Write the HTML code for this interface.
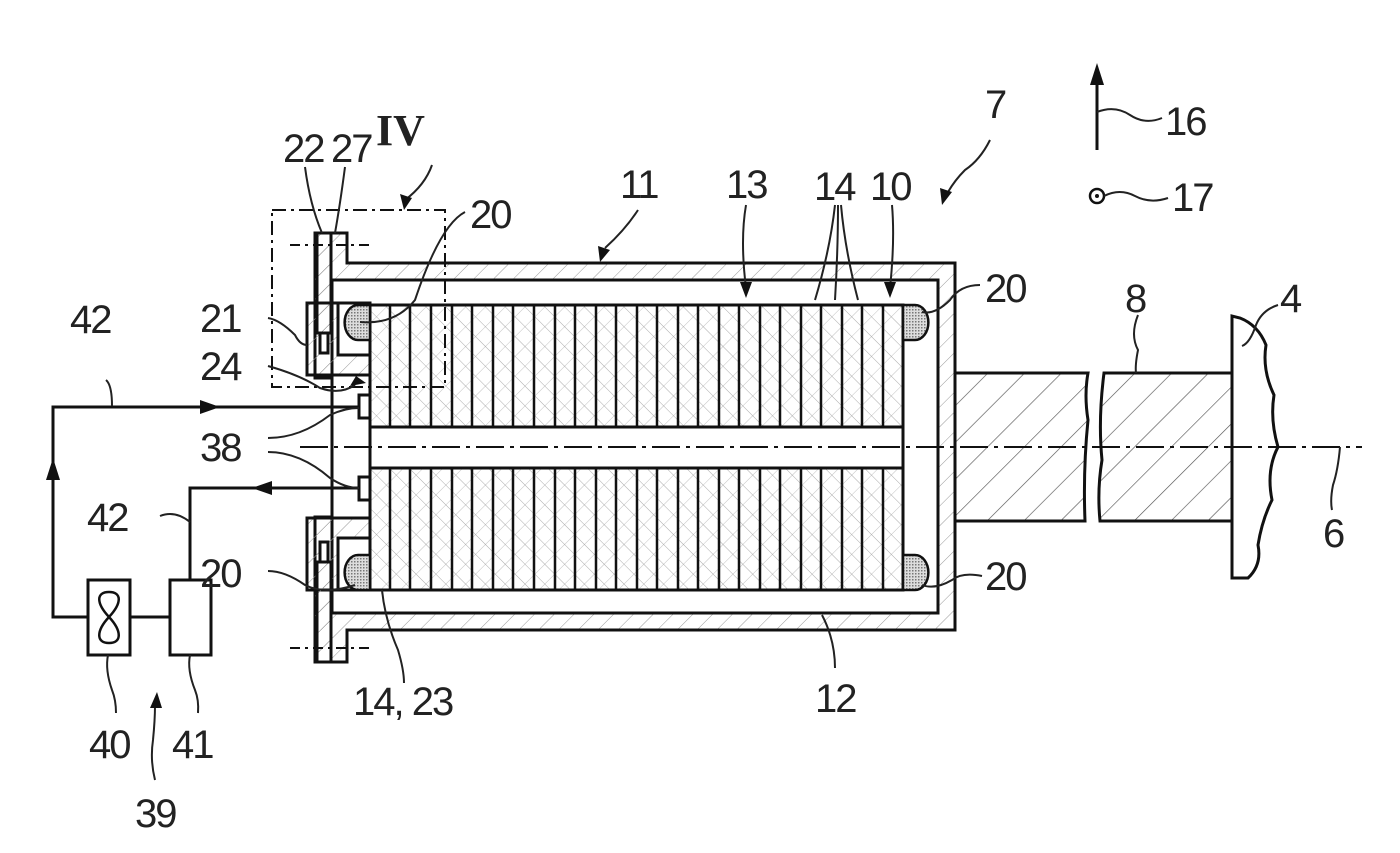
<!DOCTYPE html>
<html><head><meta charset="utf-8"><style>
html,body{margin:0;padding:0;background:#fff;}
svg{display:block;}
text{font-family:"Liberation Sans",sans-serif;font-size:40px;fill:#222;letter-spacing:-2px;}
</style></head><body>
<svg width="1400" height="853" viewBox="0 0 1400 853" xmlns="http://www.w3.org/2000/svg">
<defs>
<pattern id="h" patternUnits="userSpaceOnUse" width="14" height="14" patternTransform="rotate(45)">
<line x1="0" y1="0" x2="0" y2="14" stroke="#999" stroke-width="1"/>
</pattern>
<pattern id="h2" patternUnits="userSpaceOnUse" width="14" height="14" patternTransform="rotate(-45)">
<line x1="0" y1="0" x2="0" y2="14" stroke="#aaa" stroke-width="1"/>
</pattern>
<pattern id="hs" patternUnits="userSpaceOnUse" width="26" height="26" patternTransform="rotate(45)">
<line x1="0" y1="0" x2="0" y2="26" stroke="#555" stroke-width="1.3"/>
</pattern>
<pattern id="dots" patternUnits="userSpaceOnUse" width="3" height="3">
<rect width="3" height="3" fill="#ddd"/><rect width="1.5" height="1.5" fill="#777"/>
</pattern>
</defs>

<g stroke="#111" fill="none" stroke-width="3">
<!-- housing -->
<path d="M347,233 L347,263 L955,263 L955,630 L347,630 L347,662 L315,662 L315,517 L370,517 L370,378 L315,378 L315,233 Z" fill="url(#h)"/>
<path d="M332,280 L938,280 L938,613 L332,613 Z" fill="#fff"/>
<!-- stator stack -->
<rect x="370" y="305" width="533" height="285" fill="url(#h2)"/>
<rect x="370" y="305" width="533" height="285" fill="url(#h)" opacity="0.6"/>
<rect x="370" y="427" width="533" height="41" fill="#fff"/>
<!-- flange blocks -->
<path d="M307,303 L370,303 L370,375 L307,375 Z" fill="url(#h)"/>
<path d="M307,518 L370,518 L370,590 L307,590 Z" fill="url(#h)"/>
<rect x="315" y="263" width="17" height="40" fill="url(#h)" stroke="none"/>
<rect x="315" y="590" width="17" height="40" fill="url(#h)" stroke="none"/>
<line x1="332" y1="280" x2="332" y2="303"/>
<line x1="332" y1="590" x2="332" y2="613"/>
</g>
<g stroke="#111" stroke-width="2.5">
<line x1="390" y1="305" x2="390" y2="427"/><line x1="410" y1="305" x2="410" y2="427"/><line x1="431" y1="305" x2="431" y2="427"/><line x1="452" y1="305" x2="452" y2="427"/><line x1="472" y1="305" x2="472" y2="427"/><line x1="493" y1="305" x2="493" y2="427"/><line x1="513" y1="305" x2="513" y2="427"/><line x1="534" y1="305" x2="534" y2="427"/><line x1="555" y1="305" x2="555" y2="427"/><line x1="575" y1="305" x2="575" y2="427"/><line x1="596" y1="305" x2="596" y2="427"/><line x1="616" y1="305" x2="616" y2="427"/><line x1="637" y1="305" x2="637" y2="427"/><line x1="657" y1="305" x2="657" y2="427"/><line x1="678" y1="305" x2="678" y2="427"/><line x1="698" y1="305" x2="698" y2="427"/><line x1="719" y1="305" x2="719" y2="427"/><line x1="739" y1="305" x2="739" y2="427"/><line x1="760" y1="305" x2="760" y2="427"/><line x1="780" y1="305" x2="780" y2="427"/><line x1="801" y1="305" x2="801" y2="427"/><line x1="821" y1="305" x2="821" y2="427"/><line x1="842" y1="305" x2="842" y2="427"/><line x1="862" y1="305" x2="862" y2="427"/><line x1="883" y1="305" x2="883" y2="427"/>
<line x1="390" y1="468" x2="390" y2="590"/><line x1="410" y1="468" x2="410" y2="590"/><line x1="431" y1="468" x2="431" y2="590"/><line x1="452" y1="468" x2="452" y2="590"/><line x1="472" y1="468" x2="472" y2="590"/><line x1="493" y1="468" x2="493" y2="590"/><line x1="513" y1="468" x2="513" y2="590"/><line x1="534" y1="468" x2="534" y2="590"/><line x1="555" y1="468" x2="555" y2="590"/><line x1="575" y1="468" x2="575" y2="590"/><line x1="596" y1="468" x2="596" y2="590"/><line x1="616" y1="468" x2="616" y2="590"/><line x1="637" y1="468" x2="637" y2="590"/><line x1="657" y1="468" x2="657" y2="590"/><line x1="678" y1="468" x2="678" y2="590"/><line x1="698" y1="468" x2="698" y2="590"/><line x1="719" y1="468" x2="719" y2="590"/><line x1="739" y1="468" x2="739" y2="590"/><line x1="760" y1="468" x2="760" y2="590"/><line x1="780" y1="468" x2="780" y2="590"/><line x1="801" y1="468" x2="801" y2="590"/><line x1="821" y1="468" x2="821" y2="590"/><line x1="842" y1="468" x2="842" y2="590"/><line x1="862" y1="468" x2="862" y2="590"/><line x1="883" y1="468" x2="883" y2="590"/>
</g>
<g stroke="#111" stroke-width="3" fill="none">
<!-- flange cutouts -->
<rect x="338" y="303" width="32" height="52" fill="#fff"/>
<rect x="338" y="538" width="32" height="52" fill="#fff"/>
<!-- pins -->
<rect x="317" y="233" width="14" height="100" fill="url(#h)"/>
<rect x="320" y="333" width="8" height="20" fill="#fff"/>
<rect x="317" y="562" width="14" height="100" fill="url(#h)"/>
<rect x="320" y="542" width="8" height="20" fill="#fff"/>
<!-- end windings -->
<path d="M370,305 L358,305 A13,17 0 0 0 358,340 L370,340 Z" fill="url(#dots)" stroke-width="2.5"/>
<path d="M370,555 L358,555 A13,17 0 0 0 358,590 L370,590 Z" fill="url(#dots)" stroke-width="2.5"/>
<path d="M903,305 L915,305 A13,17 0 0 1 915,340 L903,340 Z" fill="url(#dots)" stroke-width="2.5"/>
<path d="M903,555 L915,555 A13,17 0 0 1 915,590 L903,590 Z" fill="url(#dots)" stroke-width="2.5"/>
<!-- sensors 38 -->
<rect x="359" y="395" width="11" height="23" fill="#fff"/>
<rect x="359" y="477" width="11" height="23" fill="#fff"/>
<!-- shaft -->
<path d="M955,373 L1088,373 Q1084,395 1088,420 Q1083,470 1085,521 L955,521 Z" fill="url(#hs)"/>
<path d="M1104,373 L1232,373 L1232,521 L1100,521 Q1097,490 1102,460 Q1098,420 1104,373 Z" fill="url(#hs)"/>
<!-- flange 4 -->
<path d="M1232,316 L1232,578 L1248,578 Q1262,565 1258,545 Q1262,520 1272,500 Q1266,470 1278,447 Q1270,420 1274,395 Q1262,370 1266,345 Q1258,325 1240,318 Z" fill="#fff"/>
</g>
<!-- axis -->
<line x1="300" y1="447" x2="1362" y2="447" stroke="#111" stroke-width="2" stroke-dasharray="28,6,4,6"/>
<line x1="290" y1="245" x2="370" y2="245" stroke="#111" stroke-width="2" stroke-dasharray="10,5,3,5"/>
<line x1="290" y1="648" x2="370" y2="648" stroke="#111" stroke-width="2" stroke-dasharray="10,5,3,5"/>
<!-- detail box IV -->
<rect x="272" y="210" width="173" height="177" fill="none" stroke="#111" stroke-width="2" stroke-dasharray="14,5,3,5"/>

<!-- circuit -->
<g stroke="#111" stroke-width="3" fill="none">
<path d="M359,407 L53,407 L53,617 L88,617"/>
<line x1="130" y1="617" x2="170" y2="617"/>
<path d="M359,488 L190,488 L190,580"/>
<rect x="88" y="580" width="42" height="75" fill="#fff"/>
<rect x="170" y="580" width="41" height="75" fill="#fff"/>
<path d="M109,592 C96,592 96,603 109,617 C122,631 122,643 109,643 C96,643 96,631 109,617 C122,603 122,592 109,592 Z" stroke-width="2.5"/>
</g>
<path d="M200,400 L220,407 L200,414 Z" fill="#111"/>
<path d="M53,458 L46,480 L60,480 Z" fill="#111"/>
<path d="M252,488 L272,481 L272,495 Z" fill="#111"/>

<!-- direction symbols -->
<line x1="1097" y1="150" x2="1097" y2="80" stroke="#111" stroke-width="3"/>
<path d="M1097,63 L1090,85 L1104,85 Z" fill="#111"/>
<circle cx="1097" cy="196" r="7" fill="none" stroke="#111" stroke-width="2.5"/>
<circle cx="1097" cy="196" r="2" fill="#111"/>

<!-- leaders -->
<g stroke="#222" stroke-width="2" fill="none">
<path d="M1097,112 Q1115,105 1130,115 T1162,118"/>
<path d="M1104,196 Q1120,188 1135,196 T1168,198"/>
<path d="M305,167 Q310,205 322,233"/>
<path d="M345,167 Q340,205 335,233"/>
<path d="M465,212 Q440,225 415,300 Q395,325 360,322"/>
<path d="M980,285 Q960,285 950,300 Q935,315 922,312"/>
<path d="M982,576 Q962,572 952,580 Q935,590 922,585"/>
<path d="M268,571 Q285,571 305,585 Q325,595 355,585"/>
<path d="M268,318 Q280,320 295,335 Q300,345 307,345"/>
<path d="M268,366 Q300,375 320,388 Q340,395 355,385"/>
<path d="M268,438 Q300,438 330,415 Q345,408 359,408"/>
<path d="M268,452 Q300,452 330,478 Q345,488 359,488"/>
<path d="M112,406 Q112,385 106,380"/>
<path d="M160,516 Q175,510 190,522"/>
<path d="M108,655 Q105,670 112,690 Q116,700 116,713"/>
<path d="M190,655 Q187,670 195,690 Q199,700 198,713"/>
<path d="M382,590 Q385,620 398,650 Q404,670 404,683"/>
<path d="M1138,315 Q1130,335 1138,350 Q1135,365 1136,373"/>
<path d="M1278,305 Q1262,310 1256,325 Q1250,343 1242,346"/>
<path d="M1340,447 Q1338,470 1333,485 Q1330,500 1332,510"/>
<path d="M835,668 Q835,640 822,615"/>
<path d="M638,210 Q625,230 605,248"/>
<path d="M746,205 Q740,240 746,288"/>
<path d="M892,205 Q895,240 890,288"/>
<path d="M835,205 Q830,250 815,300"/>
<path d="M838,205 Q838,250 835,300"/>
<path d="M841,205 Q845,250 858,300"/>
<path d="M432,165 Q425,185 405,200"/>
<path d="M990,140 Q980,160 965,170 Q955,180 948,192"/>
<path d="M155,780 Q150,760 153,740 Q155,720 155,705"/>
</g>
<g fill="#111">
<path d="M600,262 L598,246 L610,250 Z"/>
<path d="M746,298 L740,282 L752,282 Z"/>
<path d="M890,298 L884,282 L896,282 Z"/>
<path d="M404,210 L400,194 L412,198 Z"/>
<path d="M942,205 L940,188 L952,192 Z"/>
<path d="M157,692 L150,708 L162,708 Z"/>
<path d="M366,383 L350,386 L356,376 Z"/>
</g>

<!-- labels -->
<text x="283" y="162">22</text>
<text x="331" y="162">27</text>
<text x="376" y="145" style="font-family:'Liberation Serif',serif;font-weight:bold;font-size:44px;letter-spacing:0">IV</text>
<text x="620" y="198">11</text>
<text x="726" y="198">13</text>
<text x="814" y="200">14</text>
<text x="870" y="200">10</text>
<text x="985" y="118">7</text>
<text x="1165" y="135">16</text>
<text x="1172" y="211">17</text>
<text x="470" y="228">20</text>
<text x="985" y="302">20</text>
<text x="985" y="590">20</text>
<text x="200" y="332">21</text>
<text x="200" y="380">24</text>
<text x="70" y="333">42</text>
<text x="200" y="461">38</text>
<text x="87" y="531">42</text>
<text x="200" y="587">20</text>
<text x="1125" y="312">8</text>
<text x="1280" y="312">4</text>
<text x="1323" y="547">6</text>
<text x="353" y="715">14, 23</text>
<text x="815" y="712">12</text>
<text x="89" y="758">40</text>
<text x="172" y="758">41</text>
<text x="135" y="827">39</text>
</svg>
</body></html>
